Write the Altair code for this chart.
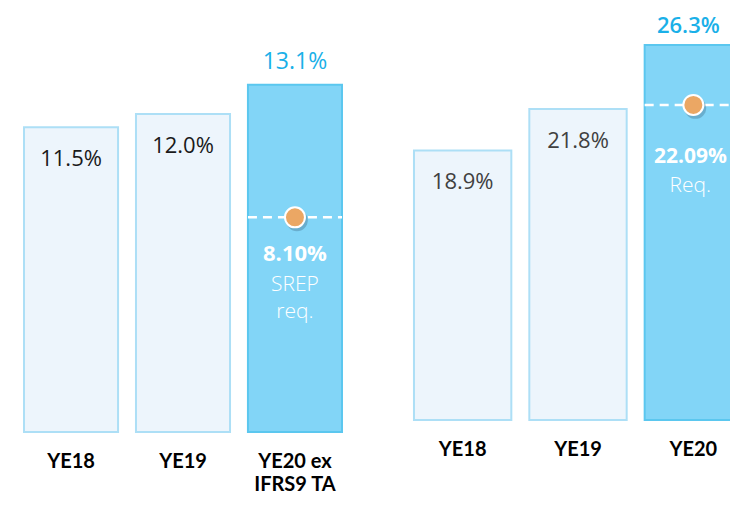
import altair as alt
import pandas as pd

# ---- data ----
left_categories = ["YE18", "YE19", "YE20 ex\nIFRS9 TA"]
left_values = [11.5, 12.0, 13.1]
left_highlight = [False, False, True]
left_req_value = 8.10
left_req_label = "8.10%"
left_req_caption = "SREP\nreq."

right_categories = ["YE18", "YE19", "YE20"]
right_values = [18.9, 21.8, 26.3]
right_highlight = [False, False, True]
right_req_value = 22.09
right_req_label = "22.09%"
right_req_caption = "Req."

# ---- styles ----
PALE_FILL = "#edf5fc"
PALE_STROKE = "#addff6"
HL_FILL = "#82d5f7"
HL_STROKE = "#5bc7ef"
TOP_COLOR = "#1ab0e8"
DOT = "#eba764"
VAL_FONT = "Open Sans"
CAT_FONT = "Lato"


def panel(cats, vals, hl, req_val, req_lab, req_cap, width, height, ymax,
          pin, pout, val_color, top_size, top_weight, top_dx, top_dy, lab_dy, cap_dy,
          lab_size, lab_dx):
    df = pd.DataFrame({"cat": cats, "val": vals, "hl": hl,
                       "label": [f"{v:.1f}%" for v in vals]})
    rq = pd.DataFrame({"cat": [cats[-1]], "req": [req_val],
                       "lab": [req_lab], "cap": [req_cap]})
    xscale = alt.Scale(paddingInner=pin, paddingOuter=pout)
    axis = alt.Axis(labelExpr="split(datum.label, '\\n')", labelAngle=0,
                    labelFont=CAT_FONT, labelFontWeight="bold", labelFontSize=20,
                    labelColor="#000000", labelBaseline="alphabetic",
                    labelPadding=35, labelLineHeight=23, ticks=False, tickSize=0,
                    domain=False, grid=False, title=None)
    x = alt.X("cat:N", sort=cats, scale=xscale, axis=axis)
    yscale = alt.Scale(domain=[0, ymax], nice=False, zero=True)
    y = alt.Y("val:Q", scale=yscale, axis=None)
    yr = alt.Y("req:Q", scale=yscale, axis=None)

    base = alt.Chart(df)
    bars = base.mark_bar(strokeWidth=2).encode(
        x=x, y=y,
        fill=alt.condition("datum.hl", alt.value(HL_FILL), alt.value(PALE_FILL)),
        stroke=alt.condition("datum.hl", alt.value(HL_STROKE), alt.value(PALE_STROKE)),
    )
    inner = base.transform_filter("!datum.hl").mark_text(
        baseline="alphabetic", dy=38.5, font=VAL_FONT, fontSize=22,
        color=val_color).encode(x=x, y=y, text="label:N")
    top = base.transform_filter("datum.hl").mark_text(
        baseline="alphabetic", dy=top_dy, dx=top_dx, font=VAL_FONT, fontSize=top_size,
        fontWeight=top_weight, color=TOP_COLOR).encode(x=x, y=y, text="label:N")

    rb = alt.Chart(rq)
    rule = rb.mark_rule(color="white", strokeWidth=2.5, strokeDash=[9, 6]).encode(
        x=alt.X("cat:N", sort=cats, bandPosition=0),
        x2=alt.X2("cat", bandPosition=1),
        y=yr)
    shadow = rb.mark_point(shape="circle", filled=True, size=470, color="#2a4a66",
                           opacity=0.28, xOffset=2, yOffset=3).encode(
        x=alt.X("cat:N", sort=cats), y=yr)
    dot = rb.mark_point(shape="circle", filled=True, size=400, fill=DOT, fillOpacity=1,
                        stroke="white", strokeWidth=2, strokeOpacity=1,
                        opacity=1).encode(x=alt.X("cat:N", sort=cats), y=yr)
    lab = rb.mark_text(baseline="alphabetic", dy=lab_dy, dx=lab_dx, font=VAL_FONT,
                       fontSize=lab_size, fontWeight="bold", color="white").encode(
        x=alt.X("cat:N", sort=cats), y=yr, text="lab:N")
    cap = rb.mark_text(baseline="alphabetic", dy=cap_dy, dx=lab_dx, font=VAL_FONT,
                       fontSize=21, fontWeight=300, color="white", lineBreak="\n",
                       lineHeight=27).encode(
        x=alt.X("cat:N", sort=cats), y=yr, text="cap:N")

    return alt.layer(bars, inner, top, rule, shadow, dot, lab, cap).properties(
        width=width, height=height)


left = panel(left_categories, left_values, left_highlight, left_req_value,
             left_req_label, left_req_caption, width=350, height=424, ymax=16.0,
             pin=0.16, pout=0.143, val_color="#1a1a1a",
             top_size=23, top_weight="normal", top_dx=0, top_dy=-15.5,
             lab_dy=44, cap_dy=74, lab_size=22, lab_dx=0)

# right panel is wider than the window; the overflow is cropped by the
# negative right padding, as in the reference where the last bar is cut off
right = panel(right_categories, right_values, right_highlight, right_req_value,
              right_req_label, right_req_caption, width=360, height=412, ymax=28.89,
              pin=0.156, pout=0.1385, val_color="#404040",
              top_size=22, top_weight=600, top_dx=-5, top_dy=-12,
              lab_dy=58, cap_dy=87, lab_size=21, lab_dx=-3)

chart = alt.hconcat(left, right, spacing=40).resolve_scale(
    x="independent", y="independent").properties(
    padding={"left": 0, "top": 0, "bottom": 0, "right": -28},
    background="white").configure_view(stroke=None)

chart.save("out.html", embed_options={"renderer": "svg", "actions": False})
